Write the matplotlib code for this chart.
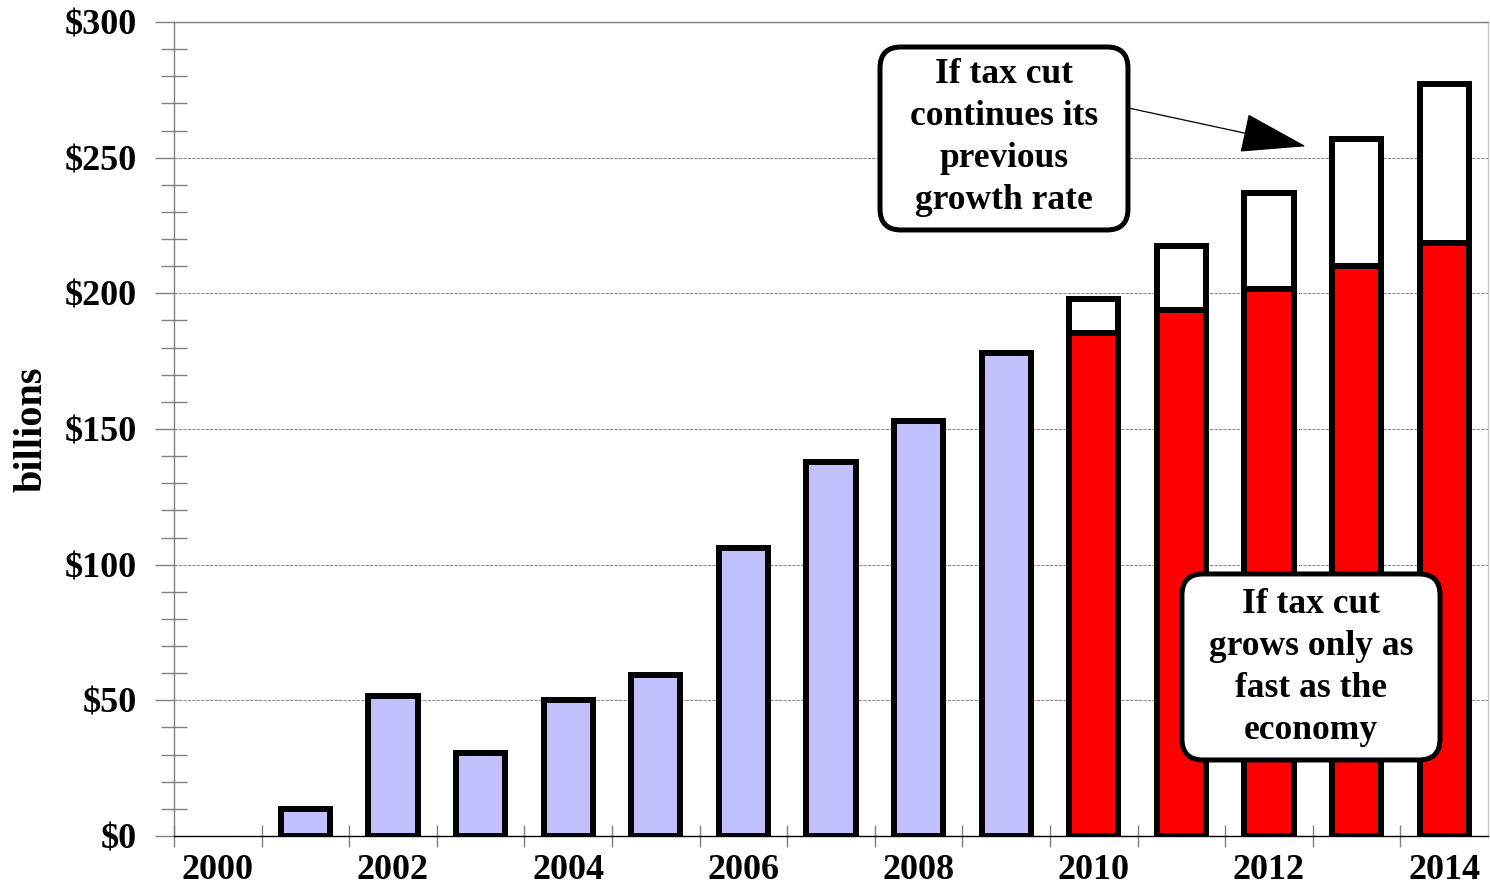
import numpy as np
import matplotlib
matplotlib.use("Agg")
import matplotlib.pyplot as plt
from matplotlib.patches import FancyBboxPatch

plt.rcParams['font.family'] = ['Liberation Serif', 'DejaVu Serif']
plt.rcParams['font.weight'] = 'bold'

# Tax cut cost per year, billions of dollars
years = list(range(2000, 2015))
actual = [0, 10, 51.5, 30.5, 50, 59.5, 106, 138, 153, 178]
with_economy = [185.5, 194, 201.5, 210, 218.5]
previous_rate = [198, 217.5, 237, 257, 277]

y_ticks = [0, 50, 100, 150, 200, 250, 300]
y_labels = ['$0', '$50', '$100', '$150', '$200', '$250', '$300']

note_top = "If tax cut\ncontinues its\nprevious\ngrowth rate"
note_bottom = "If tax cut\ngrows only as\nfast as the\neconomy"

PURPLE = '#C0C0FF'
RED = '#FF0000'
EDGE_LW = 4.3
BAR_W = 0.56


def main():
    fig = plt.figure(figsize=(14.9, 8.88), dpi=100)
    ax = fig.add_axes([174 / 1490, 52 / 888, 1314 / 1490, 814 / 888])

    x = np.arange(len(years))
    n_act = len(actual)

    # historical bars (skip the empty first year)
    for i, v in enumerate(actual):
        if v > 0:
            ax.bar(x[i], v, width=BAR_W, color=PURPLE, edgecolor='black',
                   linewidth=EDGE_LW, zorder=3)

    # projections: economy growth in red, extra from previous growth in white
    xp = x[n_act:]
    extra = np.array(previous_rate) - np.array(with_economy)
    ax.bar(xp, with_economy, width=BAR_W, color=RED, edgecolor='black',
           linewidth=EDGE_LW, zorder=3)
    ax.bar(xp, extra, bottom=with_economy, width=BAR_W, color='white',
           edgecolor='black', linewidth=EDGE_LW, zorder=3)

    ax.set_xlim(-0.5, len(years) - 0.5)
    ax.set_ylim(0, 300)

    # y axis
    ax.set_yticks(y_ticks)
    ax.set_yticklabels(y_labels, fontsize=26)
    ax.set_yticks(np.arange(0, 301, 10), minor=True)
    ax.tick_params(axis='y', which='major', direction='out', length=14,
                   width=1, color='#808080', pad=13)
    ax.tick_params(axis='y', which='minor', direction='inout', length=19,
                   width=1, color='#808080')
    ax.set_ylabel('billions', fontsize=29, fontweight='bold', labelpad=10)

    # x axis: labels every other year, ticks between categories
    ax.set_xticks(x[::2])
    ax.set_xticklabels([str(y) for y in years[::2]], fontsize=26)
    ax.set_xticks(np.arange(-0.5, len(years) - 1), minor=True)
    ax.tick_params(axis='x', which='major', length=0, pad=13)
    ax.tick_params(axis='x', which='minor', direction='inout', length=16.5,
                   width=1, color='#808080')

    ax.yaxis.grid(True, which='major', color='#909090',
                  linestyle=(0, (3, 1)), linewidth=0.8)
    ax.set_axisbelow(True)

    ax.spines['left'].set_color('#808080')
    ax.spines['top'].set_color('#808080')
    ax.spines['right'].set_color('#C8C8C8')
    ax.spines['bottom'].set_color('black')
    for s in ax.spines.values():
        s.set_linewidth(1)

    # annotation boxes (axes fraction, aspect corrected for rounding)
    aspect = 1314 / 814
    box1 = FancyBboxPatch((0.5373, 0.7445), 0.7260 - 0.5373, 0.9693 - 0.7445,
                          boxstyle='round,pad=0,rounding_size=0.016',
                          mutation_aspect=aspect, transform=ax.transAxes,
                          facecolor='white', edgecolor='black', linewidth=3.6,
                          zorder=5)
    box2 = FancyBboxPatch((0.7671, 0.0934), 0.9635 - 0.7671, 0.3219 - 0.0934,
                          boxstyle='round,pad=0,rounding_size=0.016',
                          mutation_aspect=aspect, transform=ax.transAxes,
                          facecolor='white', edgecolor='black', linewidth=3.6,
                          zorder=5)
    ax.add_patch(box1)
    ax.add_patch(box2)
    ax.text(0.6317, 0.8575, note_top, transform=ax.transAxes, fontsize=25.5,
            ha='center', va='center', multialignment='center',
            linespacing=1.36, zorder=6)
    ax.text(0.8653, 0.2076, note_bottom, transform=ax.transAxes, fontsize=25.5,
            ha='center', va='center', multialignment='center',
            linespacing=1.36, zorder=6)

    ax.annotate('', xy=(12.42, 254.2), xytext=(10.41, 268.2),
                arrowprops=dict(arrowstyle='-|>,head_length=4.3,head_width=1.3',
                                mutation_scale=10, color='black', lw=0.9,
                                shrinkA=0, shrinkB=0),
                zorder=6)

    fig.savefig('out.png', dpi=100)


if __name__ == '__main__':
    main()
